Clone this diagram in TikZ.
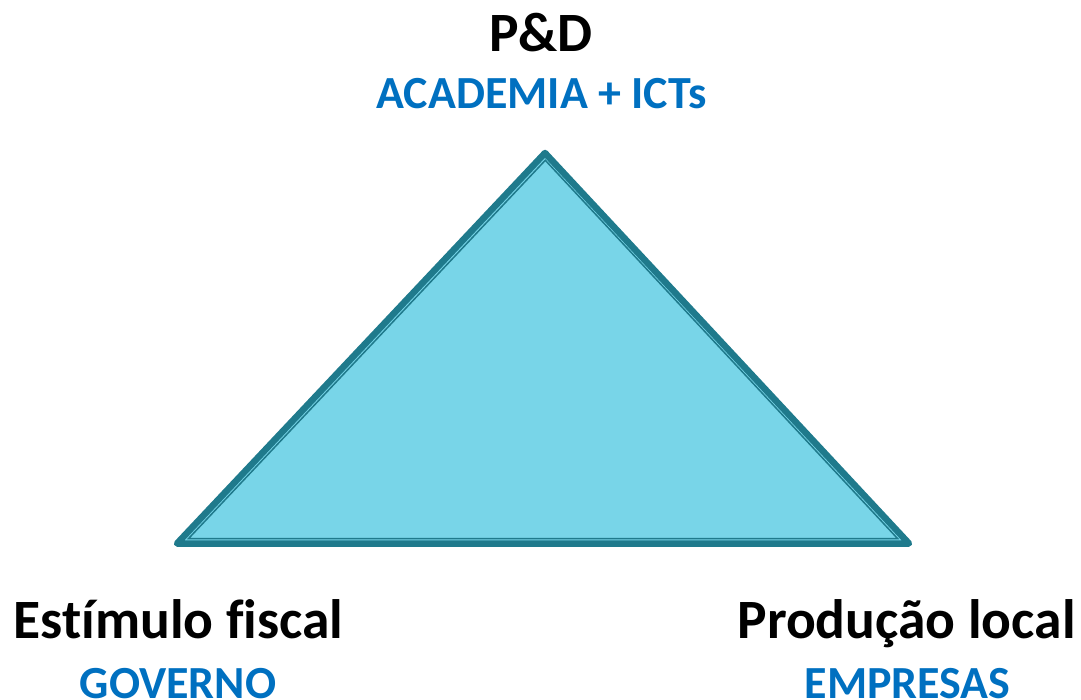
\documentclass[tikz,border=0pt]{standalone}
\usepackage{fontspec}
\setmainfont{Carlito}[Ligatures=CommonOff]
\definecolor{tealedge}{HTML}{1F7A8C}
\definecolor{cyanfill}{HTML}{78D5E8}
\definecolor{bluetxt}{HTML}{0070C0}
\tikzset{
  pole/.style={font=\bfseries\fontsize{55.5}{60}\selectfont, anchor=base, inner sep=0pt},
  actor/.style={font=\bfseries\fontsize{46}{50}\selectfont, text=bluetxt, anchor=base, inner sep=0pt}
}
\begin{document}
\begin{tikzpicture}[x=1pt,y=-1pt]
    \useasboundingbox (0,0) rectangle (1081,700);
    \coordinate (top) at (545,153);
    \coordinate (left) at (177,543.5);
    \coordinate (right) at (909,543.5);
    \coordinate (itop) at (545.3,160.3);
    \coordinate (ileft) at (188.6,538.5);
    \coordinate (iright) at (897.5,538.5);
    \fill [cyanfill] (top)--(left)--(right)--cycle;
    \draw [tealedge, line width=6.5pt, line join=round] (top)--(left)--(right)--cycle;
    \draw [tealedge, line width=1.5pt] (itop)--(ileft)--(iright)--cycle;
    \node [pole] (pd) at (541,52) {P\&D};
    \node [actor] (academia) at (541.5,108.5) {ACADEMIA + ICTs};
    \node [pole] (estimulo) at (178.5,638) {Estímulo fiscal};
    \node [actor] (governo) at (178,698.5) {GOVERNO};
    \node [pole] (producao) at (906.5,638) {Produção local};
    \node [actor] (empresas) at (907.5,698.5) {EMPRESAS};
\end{tikzpicture}
\end{document}
